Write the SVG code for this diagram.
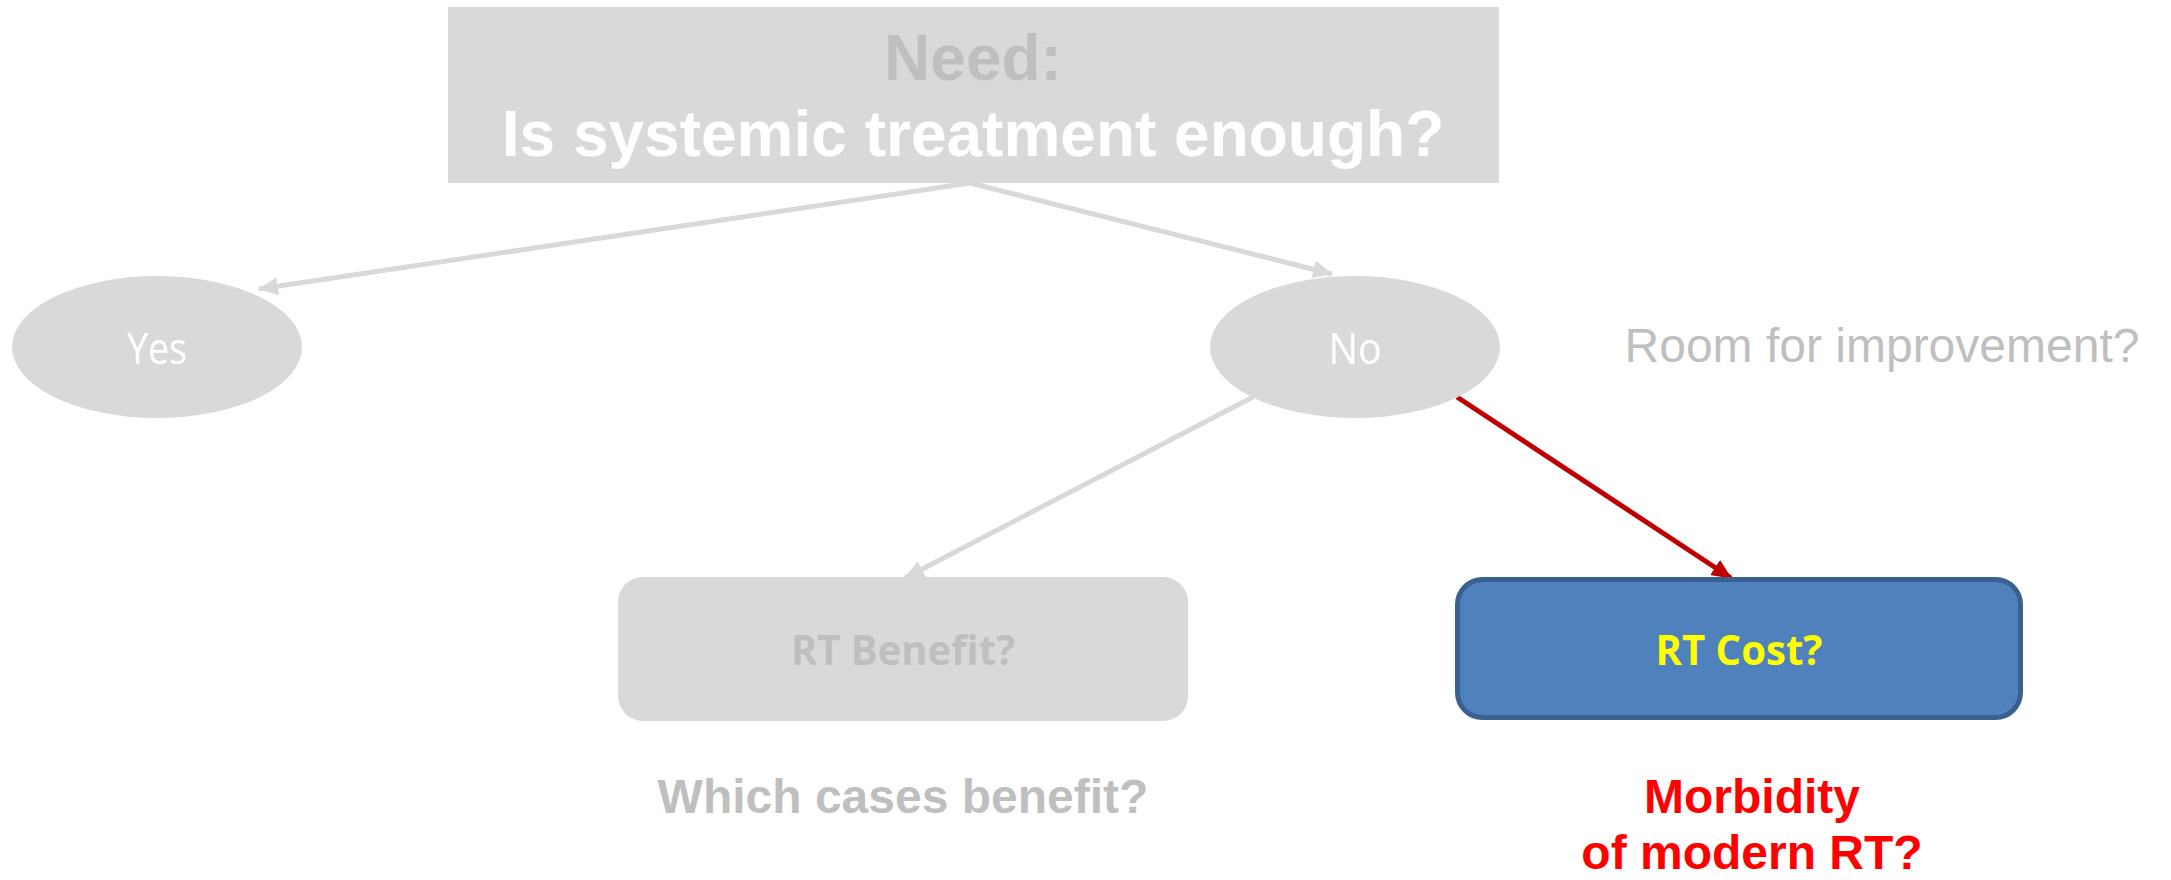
<svg xmlns="http://www.w3.org/2000/svg" width="2171" height="880" viewBox="0 0 2171 880">
  <style>
    .shape-grey { fill: #d9d9d9; }
    .head { font-family: "Liberation Sans", Arial, sans-serif; font-weight: bold; font-size: 64px; text-anchor: middle; }
    .oval-label { font-family: "Open Sans", "Noto Sans", sans-serif; font-size: 43px; fill: #ffffff; text-anchor: middle; }
    .box-label { font-family: "Open Sans", "Noto Sans", sans-serif; font-weight: bold; font-size: 42px; text-anchor: middle; }
    .note { font-family: "Liberation Sans", Arial, sans-serif; font-size: 48px; text-anchor: middle; }
    .note-bold { font-family: "Liberation Sans", Arial, sans-serif; font-weight: bold; font-size: 48px; text-anchor: middle; }
    .edge-grey { stroke: #d9d9d9; stroke-width: 5; fill: none; }
    .edge-red { stroke: #c00000; stroke-width: 5; fill: none; }
  </style>
  <defs>
    <marker id="arrow-grey" markerUnits="userSpaceOnUse" markerWidth="20" markerHeight="18" refX="19" refY="9" orient="auto">
      <path d="M0,0 L20,9 L0,18 z" fill="#d9d9d9"/>
    </marker>
    <marker id="arrow-red" markerUnits="userSpaceOnUse" markerWidth="20" markerHeight="18" refX="19" refY="9" orient="auto">
      <path d="M0,0 L20,9 L0,18 z" fill="#c00000"/>
    </marker>
  </defs>

  <rect width="2171" height="880" fill="#ffffff"/>

  <!-- connectors -->
  <g id="connectors">
    <line class="edge-grey" x1="970" y1="183" x2="259" y2="289" marker-end="url(#arrow-grey)"/>
    <line class="edge-grey" x1="970" y1="183" x2="1332" y2="274" marker-end="url(#arrow-grey)"/>
    <line class="edge-grey" x1="1253" y1="397" x2="905" y2="578" marker-end="url(#arrow-grey)"/>
    <line class="edge-red" x1="1457" y1="397" x2="1731" y2="578" marker-end="url(#arrow-red)"/>
  </g>

  <!-- question node -->
  <g id="need">
    <rect class="shape-grey" x="448" y="7" width="1051" height="176"/>
    <text class="head" x="973" y="80" fill="#bfbfbf">Need:</text>
    <text class="head" x="973" y="156" fill="#ffffff">Is systemic treatment enough?</text>
  </g>

  <g id="yes">
    <ellipse class="shape-grey" cx="157" cy="347" rx="145" ry="71"/>
    <text class="oval-label" x="157" y="364" textLength="60" lengthAdjust="spacingAndGlyphs">Yes</text>
  </g>

  <g id="no">
    <ellipse class="shape-grey" cx="1355" cy="347" rx="145" ry="71"/>
    <text class="oval-label" x="1355" y="364" textLength="53" lengthAdjust="spacingAndGlyphs">No</text>
  </g>

  <text id="room" class="note" x="1882" y="362" fill="#bfbfbf">Room for improvement?</text>

  <g id="rt-benefit">
    <rect class="shape-grey" x="618" y="577" width="570" height="144" rx="25" ry="25"/>
    <text class="box-label" x="903" y="665" fill="#bfbfbf" textLength="224" lengthAdjust="spacingAndGlyphs">RT Benefit?</text>
  </g>
  <text id="which-cases" class="note-bold" x="903" y="813" fill="#bfbfbf">Which cases benefit?</text>

  <g id="rt-cost">
    <rect x="1457.5" y="579.5" width="563" height="138" rx="25" ry="25" fill="#4f81bd" stroke="#3a6090" stroke-width="5"/>
    <text class="box-label" x="1739" y="665" fill="#ffff00" textLength="167" lengthAdjust="spacingAndGlyphs">RT Cost?</text>
  </g>
  <g id="morbidity">
    <text class="note-bold" x="1752" y="813" fill="#ff0000">Morbidity</text>
    <text class="note-bold" x="1752" y="869" fill="#ff0000">of modern RT?</text>
  </g>
</svg>
